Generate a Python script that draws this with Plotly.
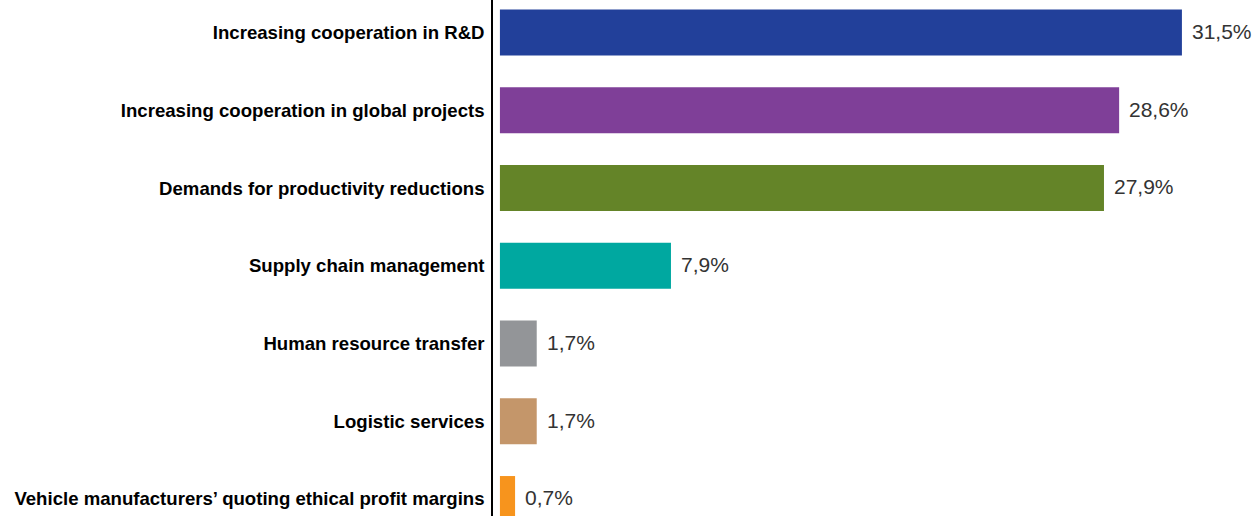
import plotly.graph_objects as go

# Share of responses per collaboration topic (%)
categories = [
    "Increasing cooperation in R&D",
    "Increasing cooperation in global projects",
    "Demands for productivity reductions",
    "Supply chain management",
    "Human resource transfer",
    "Logistic services",
    "Vehicle manufacturers’ quoting ethical profit margins",
]
values = [31.5, 28.6, 27.9, 7.9, 1.7, 1.7, 0.7]
colors = ["#22409A", "#7F3F98", "#648428", "#00A8A0", "#939598", "#C4966A", "#F7941D"]

positions = list(range(len(categories)))
labels = [f"{v:.1f}".replace(".", ",") + "%" for v in values]

fig = go.Figure(
    go.Bar(
        x=values,
        y=positions,
        orientation="h",
        marker=dict(color=colors, line=dict(width=0)),
        width=0.59,
        hoverinfo="skip",
    )
)

for p, v, t in zip(positions, values, labels):
    fig.add_annotation(
        x=v, y=p, text=t, showarrow=False, xanchor="left", yanchor="middle",
        xshift=8, yshift=1, font=dict(family="Liberation Sans", size=21, color="#333333"),
    )

fig.update_layout(
    width=1259, height=516,
    margin=dict(l=493, r=0, t=0, b=0),
    paper_bgcolor="white", plot_bgcolor="white",
    showlegend=False,
    xaxis=dict(range=[-0.32, 35.06], visible=False, showgrid=False, zeroline=False),
    yaxis=dict(
        range=[6.219, -0.418],
        tickmode="array", tickvals=positions,
        ticktext=[f"<b>{c}</b>" for c in categories],
        tickfont=dict(family="Liberation Sans", size=18.6, color="#000000"),
        showline=True, linecolor="#000000", linewidth=1.5,
        showgrid=False, zeroline=False, ticks="", ticklabelstandoff=3,
    ),
)

fig.write_html("out.html")
